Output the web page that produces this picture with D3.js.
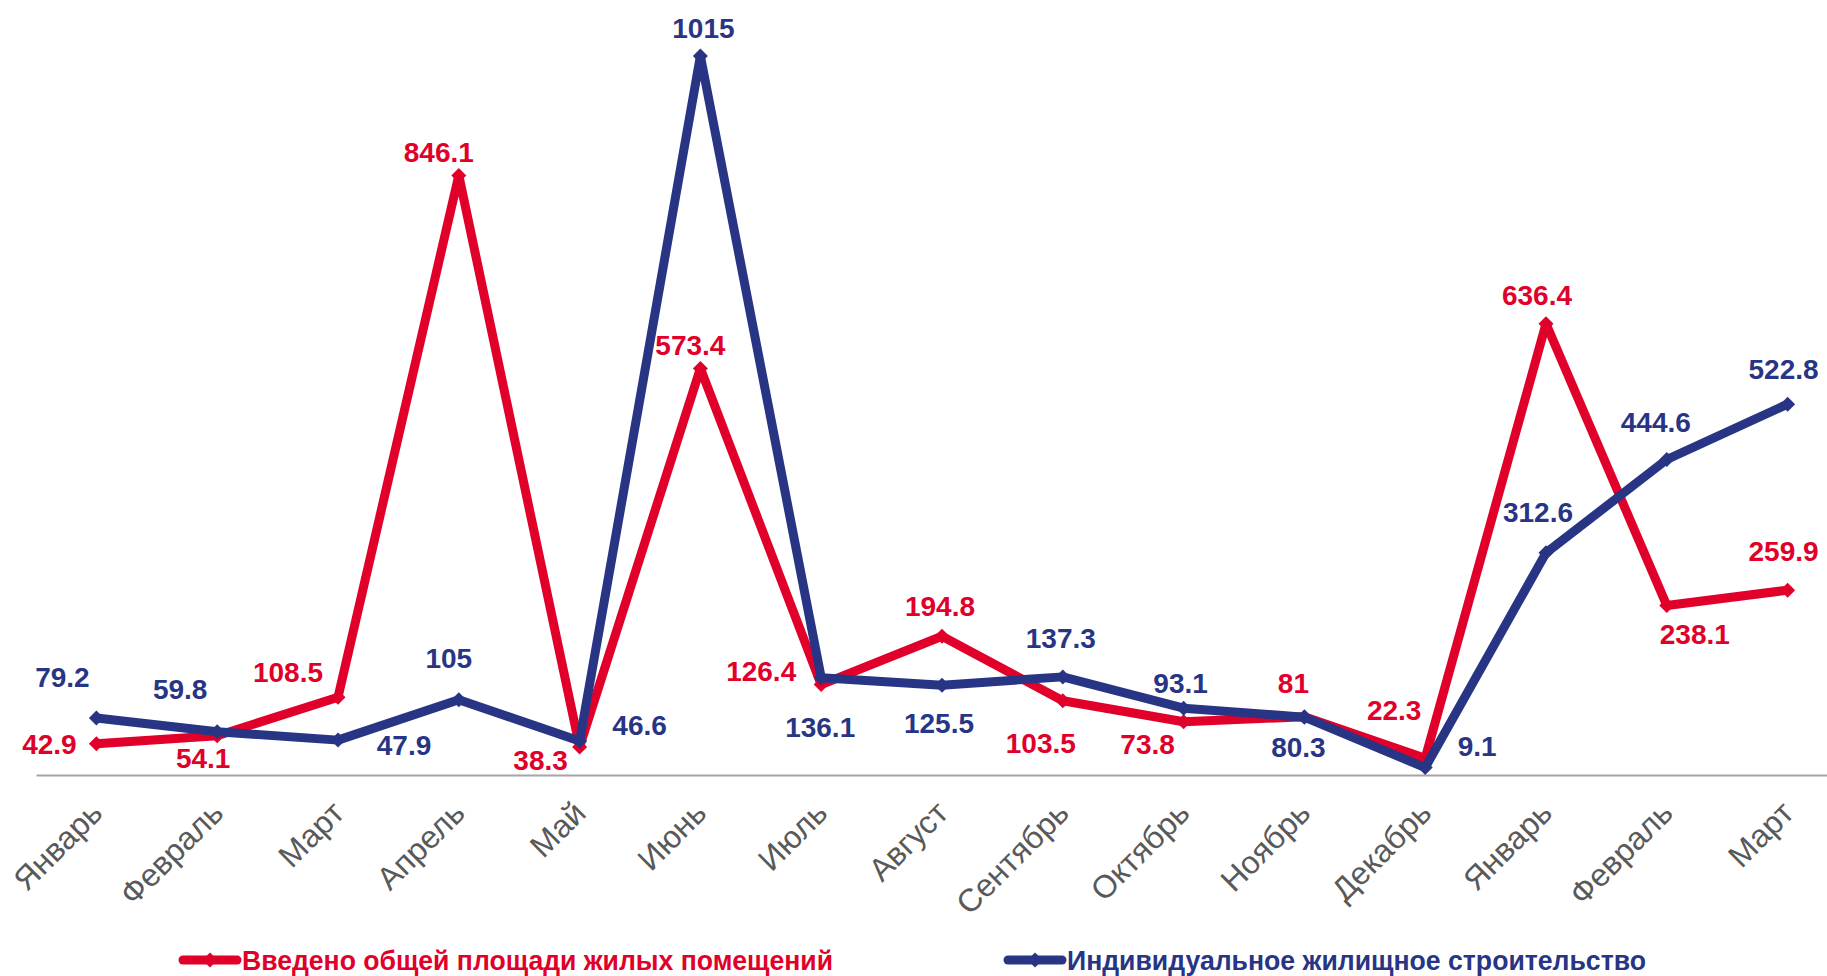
<!DOCTYPE html>
<html>
<head>
<meta charset="utf-8">
<script src="https://cdn.jsdelivr.net/npm/d3@7"></script>
<style>
	html, body { margin: 0; padding: 0; background: #fff; }
	svg { display: block; font-family: "Liberation Sans", Arial, sans-serif; }
</style>
</head>
<body>
<div id="chart"></div>
<script>

// months on the axis (two years: Jan..Dec, then Jan..Mar)
const months = ["Январь","Февраль","Март","Апрель","Май","Июнь","Июль","Август","Сентябрь","Октябрь","Ноябрь","Декабрь","Январь","Февраль","Март"];

// series values
const totalArea = [42.9, 54.1, 108.5, 846.1, 38.3, 573.4, 126.4, 194.8, 103.5, 73.8, 81, 22.3, 636.4, 238.1, 259.9];
const individual = [79.2, 59.8, 47.9, 105, 46.6, 1015, 136.1, 125.5, 137.3, 93.1, 80.3, 9.1, 312.6, 444.6, 522.8];

// series names
const seriesNames = ["Введено общей площади жилых помещений", "Индивидуальное жилищное строительство"];

// where each value label sits relative to its point [dx, dy]
const totalLabelPos = [[-47,1],[-14,22],[-50,-25],[-20,-23],[-39,13],[-10,-23],[-60,-13],[-2,-30],[-22,42],[-36,22],[-11,-34],[-31,-48],[-9,-29],[28,29],[-4,-39]];
const individualLabelPos = [[-34,-41],[-37,-42],[66,5],[-10,-42],[60,-16],[3,-28],[-1,49],[-3,38],[-2,-39],[-3,-25],[-6,30],[52,-21],[-8,-41],[-11,-37],[-4,-35]];

// set up
const w = 1827;
const h = 976;
const red = "#e1002a";
const blue = "#283585";

const svg = d3.select("#chart")
	.append("svg")
	.attr("width", w)
	.attr("height", h);

// scales
const x = d3.scaleBand()
	.domain(d3.range(months.length))
	.range([36, 1848]);
const cx = i => x(i) + x.bandwidth() / 2;

const y = d3.scaleLinear()
	.domain([0, 1015])
	.range([774, 56]);

// axis
const axis = svg.append("g")
	.attr("transform", "translate(0,775)")
	.call(d3.axisBottom(x).tickSize(0).tickSizeOuter(0).tickFormat(i => months[i]));

axis.select(".domain")
	.attr("stroke", "#a6a6a6")
	.attr("stroke-width", 2);

axis.selectAll(".tick text")
	.attr("x", 0)
	.attr("y", 0)
	.attr("dy", 0)
	.attr("transform", "translate(8,40) rotate(-45)")
	.attr("text-anchor", "end")
	.attr("fill", "#595959")
	.style("font-size", "32px")
	.style("font-family", "'Liberation Sans', Arial, sans-serif");

// diamond marker path
const diamond = (px, py, r) => `M${px},${py - r}L${px + r},${py}L${px},${py + r}L${px - r},${py}Z`;

const line = d3.line()
	.x((d, i) => cx(i))
	.y(d => y(d));

const series = [
	{name: seriesNames[0], values: totalArea, color: red, pos: totalLabelPos},
	{name: seriesNames[1], values: individual, color: blue, pos: individualLabelPos}
];

// lines and markers
series.forEach(s => {
	const g = svg.append("g");
	g.append("path")
		.attr("d", line(s.values))
		.attr("fill", "none")
		.attr("stroke", s.color)
		.attr("stroke-width", 9)
		.attr("stroke-linejoin", "round")
		.attr("stroke-linecap", "round");
	g.selectAll(".marker")
		.data(s.values)
		.enter()
		.append("path")
		.attr("class", "marker")
		.attr("d", (d, i) => diamond(cx(i), y(d), 7.5))
		.attr("fill", s.color);
});

// value labels
series.forEach(s => {
	svg.append("g")
		.selectAll("text")
		.data(s.values)
		.enter()
		.append("text")
		.attr("x", (d, i) => cx(i) + s.pos[i][0])
		.attr("y", (d, i) => y(d) + s.pos[i][1])
		.attr("dy", "0.35em")
		.attr("text-anchor", "middle")
		.attr("fill", s.color)
		.style("font-size", "28px")
		.style("font-weight", "bold")
		.text(d => d);
});

// legend
const legend = [
	{x0: 183, x1: 237, tx: 242, tl: 591},
	{x0: 1008, x1: 1062, tx: 1067, tl: 579}
];

legend.forEach((l, k) => {
	const s = series[k];
	const g = svg.append("g");
	g.append("line")
		.attr("x1", l.x0).attr("x2", l.x1)
		.attr("y1", 960).attr("y2", 960)
		.attr("stroke", s.color)
		.attr("stroke-width", 9)
		.attr("stroke-linecap", "round");
	g.append("path")
		.attr("d", diamond((l.x0 + l.x1) / 2, 960, 7.5))
		.attr("fill", s.color);
	g.append("text")
		.attr("x", l.tx)
		.attr("y", 970)
		.attr("textLength", l.tl)
		.attr("lengthAdjust", "spacingAndGlyphs")
		.attr("fill", s.color)
		.style("font-size", "27px")
		.style("font-weight", "bold")
		.text(s.name);
});

</script>
</body>
</html>
